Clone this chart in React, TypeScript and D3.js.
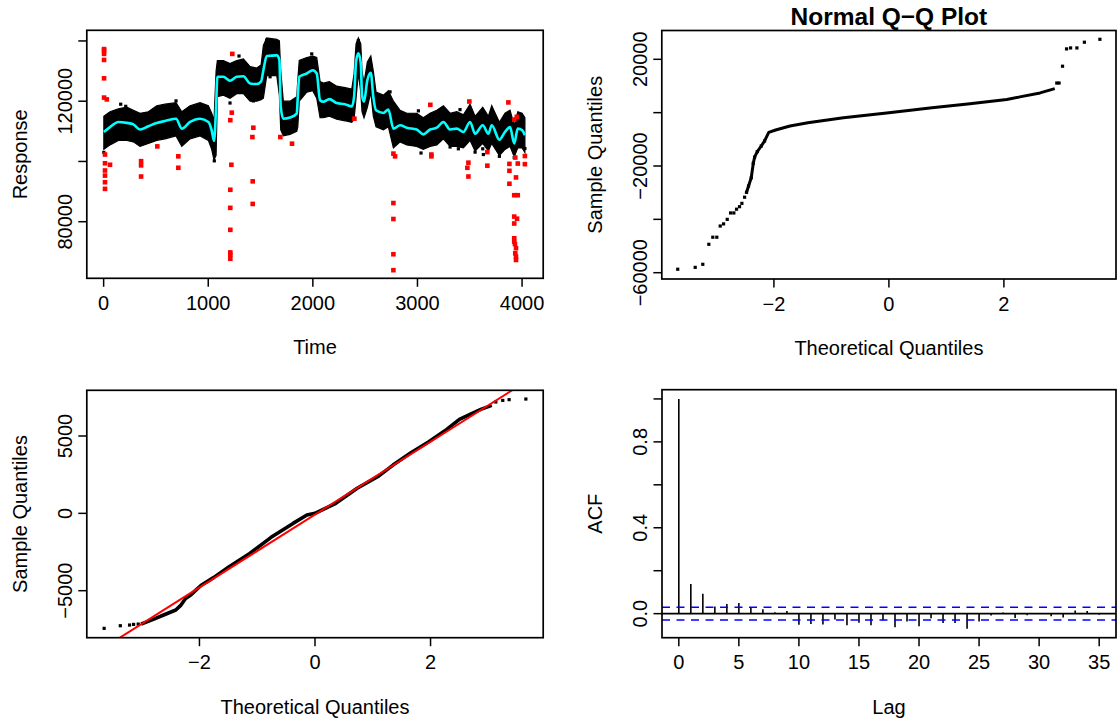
import React from "react";
import * as d3 from "d3";

const FONT = "'Liberation Sans', Arial, Helvetica, sans-serif";
const MINUS = "\u2212";

// ---------- Panel 1: time series ----------
const tsTime = [2,61,141,221,284,348,427,508,587,692,747,826,922,1001,1033,1055,1075,1087,1144,1208,1272,1336,1400,1464,1505,1527,1559,1655,1680,1693,1718,1782,1846,1856,1870,1942,1999,2037,2069,2100,2158,2228,2308,2372,2394,2413,2435,2458,2470,2489,2521,2554,2578,2604,2674,2722,2770,2834,2898,2993,3056,3120,3185,3248,3312,3376,3439,3503,3551,3624,3678,3710,3783,3837,3885,3925,3959,4000,4027];
const tsSmooth = [109800,111400,113100,112800,112300,110600,111700,112800,113400,114200,110900,113100,114200,113100,110300,106800,118100,128100,128100,126800,128100,128300,125900,125700,126500,130300,135000,135200,133700,118100,114200,114600,115900,121400,128100,129200,130300,129200,120300,119800,120700,119400,119000,118300,121400,133100,135900,132600,122000,119800,127000,129400,121400,117000,116100,117200,110900,112000,111200,110600,109000,110600,111200,113100,110600,110900,109800,113100,109200,112000,109200,112000,107200,109800,111400,106000,110900,110400,108700];
const tsUpper = [115000,116500,117500,118000,117000,116000,116500,118500,119000,119500,116500,118500,119500,118500,116000,113500,130000,133500,133500,132500,133500,134000,131500,131000,132000,138500,141000,140500,140000,130000,120000,120000,121500,127000,133500,134500,135000,134500,126500,126000,126500,125000,124500,124000,129000,139000,141000,139000,130000,126000,133000,135000,130000,123000,122000,123500,120000,117000,116000,116000,114500,116000,117000,118500,116000,116500,115500,119000,115000,118000,115000,118500,113000,116000,117000,112000,116500,116000,114500];
const tsLower = [104000,105500,107000,107000,106500,105000,106000,107000,107500,108500,105000,107500,108500,107000,104000,100500,102000,121500,122000,121000,122500,122500,120000,120000,120500,121000,128500,128500,122000,110500,108500,109000,110000,111500,120000,123000,123500,121000,114500,114500,115000,114000,113500,113000,114000,121000,129500,123000,116500,114500,118000,123000,115000,111500,110500,111500,104500,106500,105500,105000,104000,105000,105500,107500,105000,105000,104500,107000,103500,106000,103500,106000,102000,104000,105000,101500,104500,104500,103000];
const strayTime = [2,163,211,692,1058,1208,1294,1431,1559,1591,1894,1989,2435,2738,3009,3034,3312,3391,3407,3551,3624,3630,3783,3925,4027];
const strayValue = [103000,119000,118300,120100,100200,119400,135000,120100,140300,128100,123100,135700,140100,123100,116800,102800,104800,104200,117200,103100,104200,102300,101700,101300,104300];
const outlierTime = [4,4,4,4,4,4,30,13,13,13,13,13,13,61,513,358,358,358,714,714,1230,1225,1211,1221,1211,1211,1211,1211,1211,1211,1431,1422,1425,1425,1689,1801,2397,2770,2786,2770,2770,2770,2770,3123,3133,3133,3496,3487,3477,3487,3668,3668,3869,3879,3879,3879,3925,3949,3935,3942,3925,3959,3925,3952,3925,3925,3925,3932,3942,3935,3942,3942,4027,4027,3959];
const outlierValue = [137300,136800,135700,133700,127600,121200,120600,102300,99400,97000,95300,93100,90900,98900,105000,100100,98700,95000,101700,97900,135700,116200,113700,98900,90600,84600,77300,69800,69000,67700,111200,108100,93400,85900,108100,105900,114200,102600,101700,86200,80900,69200,63900,118800,102300,101700,119900,99600,97900,95000,103100,98600,119600,99200,96900,92600,113900,114800,101300,94700,88800,88800,81700,81000,79400,74500,73400,72600,71200,69500,68400,67300,101800,99100,99300];
const tsXTicks = [0,1000,2000,3000,4000];
const tsXLabels = ["0","1000","2000","3000","4000"];
const tsYTicks = [80000,100000,120000,140000];
const tsYLabels = ["80000","","120000",""];

// ---------- Panel 2: Normal Q-Q plot ----------
const qqTopLineX = [-2.476,-2.441,-2.394,-2.359,-2.336,-2.289,-2.22,-2.162,-2.09,-1.97,-1.72,-1.41,-0.79,0,0.75,1.37,2.05,2.3,2.63,2.86];
const qqTopLineY = [-29850,-27500,-24400,-19000,-16700,-14600,-12500,-10600,-7400,-6500,-5000,-3750,-1900,0,1875,3250,4900,6000,7400,8860];
const qqTopTailX = [-3.673,-3.369,-3.237,-3.132,-3.063,-2.993,-2.934,-2.876,-2.812,-2.754,-2.697,-2.65,-2.598,-2.557,-2.51,-2.476,-2.441,-2.394,-2.359,-2.336,-2.289,-2.22,-2.162,2.92,2.96,3.02,3.09,3.16,3.27,3.4,3.67];
const qqTopTailY = [-58700,-58000,-56850,-49350,-46700,-46700,-42500,-41700,-40000,-37600,-37600,-36200,-35250,-34000,-31700,-29850,-27500,-24400,-19000,-16700,-14600,-12500,-10600,11100,11100,17400,23900,24260,24260,26400,27500];
const qqTopXTicks = [-2,0,2];
const qqTopXLabels = [MINUS + "2","0","2"];
const qqTopYTicks = [-60000,-40000,-20000,0,20000];
const qqTopYLabels = [MINUS + "60000","",MINUS + "20000","","20000"];

// ---------- Panel 3: Q-Q plot of residuals ----------
const qqBotLineX = [-2.98,-2.8,-2.62,-2.41,-2.32,-2.24,-2.15,-2.09,-1.97,-1.86,-1.75,-1.5,-1.13,-0.76,-0.38,-0.14,0,0.36,0.73,1.1,1.35,1.66,1.97,2.28,2.5,2.72,2.87,3.03];
const qqBotLineY = [-7110,-6850,-6570,-6250,-5930,-5500,-5280,-5060,-4650,-4400,-4140,-3490,-2590,-1550,-650,-110,0,650,1620,2410,3120,3920,4630,5430,6080,6470,6720,6940];
const qqBotTailX = [-3.65,-3.37,-3.21,-3.14,-3.06,3.13,3.25,3.36,3.65];
const qqBotTailY = [-7435,-7265,-7220,-7180,-7160,7200,7300,7350,7390];
const qqLineIntercept = -79;
const qqLineSlope = 2356;
const qqBotXTicks = [-2,0,2];
const qqBotXLabels = [MINUS + "2","0","2"];
const qqBotYTicks = [-5000,0,5000];
const qqBotYLabels = [MINUS + "5000","0","5000"];

// ---------- Panel 4: ACF ----------
const acfLags = [0,1,2,3,4,5,6,7,8,9,10,11,12,13,14,15,16,17,18,19,20,21,22,23,24,25,26,27,28,29,30,31,32,33,34,35];
const acfValues = [1,0.138,0.093,0.033,0.045,0.05,0.031,0.02,0.007,0.012,-0.052,-0.048,-0.051,-0.027,-0.054,-0.042,-0.054,-0.031,-0.063,-0.036,-0.059,-0.021,-0.044,-0.044,-0.07,-0.036,-0.009,0.005,-0.02,-0.007,0.002,-0.012,-0.018,0.015,0.012,-0.005];
const acfCI = 0.0298;
const acfXTicks = [0,5,10,15,20,25,30,35];
const acfXLabels = ["0","5","10","15","20","25","30","35"];
const acfYTicks = [0,0.2,0.4,0.6,0.8,1.0];
const acfYLabels = ["0.0","","0.4","","0.8",""];

type Box = { left: number; right: number; top: number; bottom: number };
const boxTL: Box = { left: 86.8, right: 543.2, top: 30.3, bottom: 278.3 };
const boxTR: Box = { left: 661.8, right: 1116, top: 30.5, bottom: 279 };
const boxBL: Box = { left: 86.8, right: 543.2, top: 390.3, bottom: 637.7 };
const boxBR: Box = { left: 662, right: 1116, top: 389.7, bottom: 637.7 };

const FS = 20;
const TICK = 8.5;

function Axes(props: {
  box: Box; x: any; y: any;
  xTicks: number[]; xLabels: string[]; yTicks: number[]; yLabels: string[];
  xTitle: string; yTitle: string;
}) {
  const { box, x, y, xTicks, xLabels, yTicks, yLabels, xTitle, yTitle } = props;
  const cx = (box.left + box.right) / 2;
  const cy = (box.top + box.bottom) / 2;
  return (
    <g fontFamily={FONT} fontSize={FS} fill="#000">
      <rect x={box.left} y={box.top} width={box.right - box.left} height={box.bottom - box.top}
        fill="none" stroke="#000" strokeWidth={1.7} />
      {xTicks.map((t, i) => (
        <line key={"xt" + i} x1={x(t)} x2={x(t)} y1={box.bottom} y2={box.bottom + TICK} stroke="#000" strokeWidth={1.5} />
      ))}
      {xTicks.map((t, i) => xLabels[i] ? (
        <text key={"xl" + i} x={x(t)} y={box.bottom + 31.5} textAnchor="middle">{xLabels[i]}</text>
      ) : null)}
      {yTicks.map((t, i) => (
        <line key={"yt" + i} x1={box.left} x2={box.left - TICK} y1={y(t)} y2={y(t)} stroke="#000" strokeWidth={1.5} />
      ))}
      {yTicks.map((t, i) => yLabels[i] ? (
        <text key={"yl" + i} transform={`translate(${box.left - 15},${y(t)}) rotate(-90)`} textAnchor="middle">{yLabels[i]}</text>
      ) : null)}
      <text x={cx} y={box.bottom + 76} textAnchor="middle">{xTitle}</text>
      <text transform={`translate(${box.left - 60},${cy}) rotate(-90)`} textAnchor="middle">{yTitle}</text>
    </g>
  );
}

function clipRect(id: string, b: Box) {
  return (
    <clipPath id={id}>
      <rect x={b.left} y={b.top} width={b.right - b.left} height={b.bottom - b.top} />
    </clipPath>
  );
}

export default function App() {
  // Panel 1 scales
  const x1 = d3.scaleLinear().domain([-161, 4202]).range([boxTL.left, boxTL.right]);
  const y1 = d3.scaleLinear().domain([61215, 143536]).range([boxTL.bottom, boxTL.top]);
  const band = d3.area<number>()
    .x((_, i) => x1(tsTime[i]))
    .y0((_, i) => y1(tsLower[i]))
    .y1((_, i) => y1(tsUpper[i]))
    .curve(d3.curveLinear)(tsTime as any) || "";
  const smooth = d3.line<number>()
    .x((_, i) => x1(tsTime[i]))
    .y((_, i) => y1(tsSmooth[i]))
    .curve(d3.curveMonotoneX)(tsTime as any) || "";

  // Panel 2 scales
  const x2 = d3.scaleLinear().domain([-3.95, 3.95]).range([boxTR.left, boxTR.right]);
  const y2 = d3.scaleLinear().domain([-62362, 30797]).range([boxTR.bottom, boxTR.top]);
  const qqTopPath = d3.line<number>()
    .x((_, i) => x2(qqTopLineX[i]))
    .y((_, i) => y2(qqTopLineY[i]))(qqTopLineX as any) || "";

  // Panel 3 scales
  const x3 = d3.scaleLinear().domain([-3.95, 3.95]).range([boxBL.left, boxBL.right]);
  const y3 = d3.scaleLinear().domain([-8039, 7955]).range([boxBL.bottom, boxBL.top]);
  const qqBotPath = d3.line<number>()
    .x((_, i) => x3(qqBotLineX[i]))
    .y((_, i) => y3(qqBotLineY[i]))(qqBotLineX as any) || "";
  const lx0 = -4.2, lx1 = 4.2;

  // Panel 4 scales
  const x4 = d3.scaleLinear().domain([-1.4, 36.4]).range([boxBR.left, boxBR.right]);
  const y4 = d3.scaleLinear().domain([-0.112, 1.043]).range([boxBR.bottom, boxBR.top]);

  const sq = 3.2;
  const rq = 4.6;

  return (
    <svg width={1118} height={719} viewBox="0 0 1118 719"
      style={{ position: "absolute", left: 0, top: 0, background: "#fff" }}>
      <defs>
        {clipRect("cTL", boxTL)}
        {clipRect("cTR", boxTR)}
        {clipRect("cBL", boxBL)}
        {clipRect("cBR", boxBR)}
      </defs>
      <rect x={0} y={0} width={1118} height={719} fill="#fff" />

      {/* Panel 1 */}
      <g clipPath="url(#cTL)">
        <path d={band} fill="#000" stroke="#000" strokeWidth={1.2} strokeLinejoin="miter" />
        {strayTime.map((t, i) => (
          <rect key={"s" + i} x={x1(t) - sq / 2} y={y1(strayValue[i]) - sq / 2} width={sq} height={sq} fill="#000" />
        ))}
        {outlierTime.map((t, i) => (
          <rect key={"o" + i} x={x1(t) - rq / 2} y={y1(outlierValue[i]) - rq / 2} width={rq} height={rq} fill="#ff0000" />
        ))}
        <path d={smooth} fill="none" stroke="#00ffff" strokeWidth={2.6} strokeLinejoin="round" />
      </g>
      <Axes box={boxTL} x={x1} y={y1} xTicks={tsXTicks} xLabels={tsXLabels} yTicks={tsYTicks} yLabels={tsYLabels}
        xTitle="Time" yTitle="Response" />

      {/* Panel 2 */}
      <g clipPath="url(#cTR)">
        <path d={qqTopPath} fill="none" stroke="#000" strokeWidth={3.0} strokeLinejoin="round" strokeLinecap="square" />
        {qqTopTailX.map((v, i) => (
          <rect key={"qt" + i} x={x2(v) - sq / 2} y={y2(qqTopTailY[i]) - sq / 2} width={sq} height={sq} fill="#000" />
        ))}
      </g>
      <Axes box={boxTR} x={x2} y={y2} xTicks={qqTopXTicks} xLabels={qqTopXLabels} yTicks={qqTopYTicks} yLabels={qqTopYLabels}
        xTitle="Theoretical Quantiles" yTitle="Sample Quantiles" />
      <text x={(boxTR.left + boxTR.right) / 2} y={25} textAnchor="middle" fontFamily={FONT} fontSize={24.5} fontWeight="bold">
        {"Normal Q" + MINUS + "Q Plot"}
      </text>

      {/* Panel 3 */}
      <g clipPath="url(#cBL)">
        <path d={qqBotPath} fill="none" stroke="#000" strokeWidth={3.6} strokeLinejoin="round" strokeLinecap="square" />
        {qqBotTailX.map((v, i) => (
          <rect key={"qb" + i} x={x3(v) - sq / 2} y={y3(qqBotTailY[i]) - sq / 2} width={sq} height={sq} fill="#000" />
        ))}
        <line x1={x3(lx0)} y1={y3(qqLineIntercept + qqLineSlope * lx0)} x2={x3(lx1)} y2={y3(qqLineIntercept + qqLineSlope * lx1)}
          stroke="#ff0000" strokeWidth={2} />
      </g>
      <Axes box={boxBL} x={x3} y={y3} xTicks={qqBotXTicks} xLabels={qqBotXLabels} yTicks={qqBotYTicks} yLabels={qqBotYLabels}
        xTitle="Theoretical Quantiles" yTitle="Sample Quantiles" />

      {/* Panel 4 */}
      <g clipPath="url(#cBR)">
        {acfLags.map((l, i) => (
          <line key={"a" + i} x1={x4(l)} x2={x4(l)} y1={y4(0)} y2={y4(acfValues[i])} stroke="#000" strokeWidth={1.6} />
        ))}
        <line x1={boxBR.left} x2={boxBR.right} y1={y4(0)} y2={y4(0)} stroke="#000" strokeWidth={1.6} />
        <line x1={boxBR.left} x2={boxBR.right} y1={y4(acfCI)} y2={y4(acfCI)} stroke="#0000ff" strokeWidth={1.6} strokeDasharray="8 6.5" />
        <line x1={boxBR.left} x2={boxBR.right} y1={y4(-acfCI)} y2={y4(-acfCI)} stroke="#0000ff" strokeWidth={1.6} strokeDasharray="8 6.5" />
      </g>
      <Axes box={boxBR} x={x4} y={y4} xTicks={acfXTicks} xLabels={acfXLabels} yTicks={acfYTicks} yLabels={acfYLabels}
        xTitle="Lag" yTitle="ACF" />
    </svg>
  );
}
